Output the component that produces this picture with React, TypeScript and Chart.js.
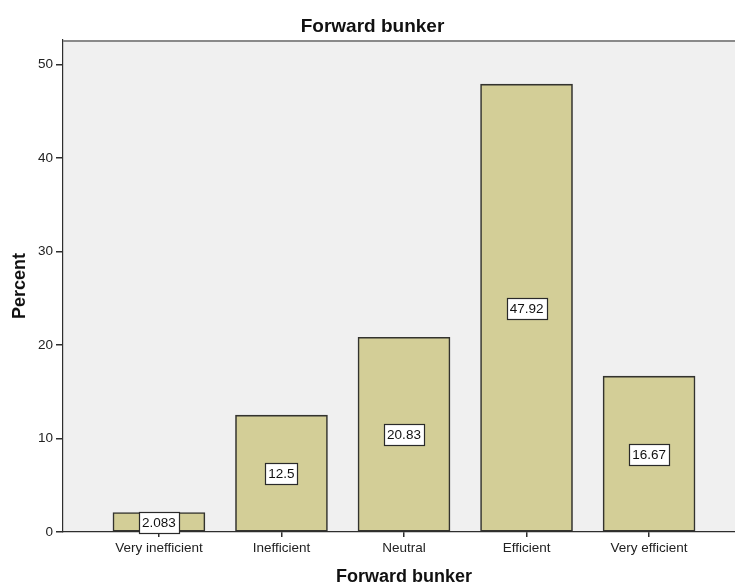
import React, { useEffect, useRef } from "react";
import { Chart, registerables } from "chart.js";

Chart.register(...registerables);

// Response categories and the percentage of answers in each
const categories = ["Very inefficient", "Inefficient", "Neutral", "Efficient", "Very efficient"];
const percents = [2.083, 12.5, 20.83, 47.92, 16.67];
const yTicks = [0, 10, 20, 30, 40, 50];

const chartTitle = "Forward bunker";
const xTitle = "Forward bunker";
const yTitle = "Percent";

const FONT = "'Liberation Sans', Arial, Helvetica, sans-serif";
const INK = "#222222";
const AXIS = "#2E2E2E";

const CANVAS_W = 745;
const CANVAS_H = 584;

// Plot frame, bar value boxes and titles
const decorations = {
  id: "decorations",
  beforeDraw(chart: any) {
    const { ctx, chartArea: a } = chart;
    ctx.save();
    ctx.fillStyle = "#F0F0F0";
    ctx.fillRect(a.left, a.top, a.right - a.left, a.bottom - a.top);
    ctx.restore();
  },
  afterDatasetsDraw(chart: any) {
    const { ctx } = chart;
    const yScale = chart.scales.y;
    const meta = chart.getDatasetMeta(0);
    ctx.save();
    ctx.font = `13.5px ${FONT}`;
    ctx.textAlign = "center";
    ctx.textBaseline = "middle";
    meta.data.forEach((bar: any, i: number) => {
      const v = percents[i];
      const text = String(v);
      const cx = bar.x;
      const cy = yScale.getPixelForValue(v / 2);
      const w = Math.round(ctx.measureText(text).width + 6);
      const h = 21;
      const x0 = Math.round(cx - w / 2) + 0.5;
      const y0 = Math.round(cy - h / 2) + 0.5;
      ctx.fillStyle = "#FFFFFF";
      ctx.fillRect(x0, y0, w, h);
      ctx.strokeStyle = "#2A2A2A";
      ctx.lineWidth = 1.2;
      ctx.strokeRect(x0, y0, w, h);
      ctx.fillStyle = "#111111";
      ctx.fillText(text, cx, y0 + h / 2 + 0.5);
    });
    ctx.restore();
  },
  afterDraw(chart: any) {
    const { ctx, chartArea: a } = chart;
    ctx.save();
    // top edge of the plot frame
    ctx.strokeStyle = "#8A8A8A";
    ctx.lineWidth = 2;
    ctx.beginPath();
    ctx.moveTo(a.left, a.top + 1);
    ctx.lineTo(a.right, a.top + 1);
    ctx.stroke();

    ctx.fillStyle = "#111111";
    ctx.textAlign = "center";
    ctx.textBaseline = "alphabetic";
    ctx.font = `bold 19px ${FONT}`;
    ctx.fillText(chartTitle, chart.width / 2, 32);

    ctx.font = `bold 18px ${FONT}`;
    ctx.fillText(xTitle, (a.left + a.right) / 2, 582);

    ctx.translate(25, (a.top + a.bottom) / 2);
    ctx.rotate(-Math.PI / 2);
    ctx.fillText(yTitle, 0, 0);
    ctx.restore();
  },
};

export default function App() {
  const canvasRef = useRef<HTMLCanvasElement | null>(null);

  useEffect(() => {
    const canvas = canvasRef.current;
    if (!canvas) return;

    const chart = new Chart(canvas, {
      type: "bar",
      data: {
        datasets: [
          {
            label: yTitle,
            data: percents.map((v, i) => ({ x: i, y: v })),
            backgroundColor: "#D3CE97",
            borderColor: "#33332E",
            borderWidth: 1.6,
            borderSkipped: false,
            barThickness: 92,
          },
        ],
      },
      options: {
        responsive: false,
        animation: false,
        devicePixelRatio: 1,
        layout: { padding: { top: 40, left: 0, right: 0, bottom: 0 } },
        plugins: {
          legend: { display: false },
          title: { display: false },
          tooltip: { enabled: false },
        },
        scales: {
          x: {
            type: "linear",
            offset: false,
            min: -0.783,
            max: 4.783,
            afterBuildTicks: (scale: any) => {
              scale.ticks = categories.map((_, i) => ({ value: i }));
            },
            afterFit: (scale: any) => {
              scale.height = 52;
            },
            ticks: {
              autoSkip: false,
              maxRotation: 0,
              padding: 3,
              color: INK,
              font: { family: FONT, size: 13.5 },
              callback: (value: any) => categories[Number(value)] ?? "",
            },
            grid: {
              offset: false,
              drawOnChartArea: false,
              drawTicks: true,
              tickLength: 5,
              lineWidth: 1.5,
              color: AXIS,
            },
            border: { display: true, color: AXIS, width: 1.2 },
          },
          y: {
            type: "linear",
            min: 0,
            max: 52.64,
            afterBuildTicks: (scale: any) => {
              scale.ticks = yTicks.map((v) => ({ value: v }));
            },
            afterFit: (scale: any) => {
              scale.width = 63;
            },
            ticks: {
              padding: 3,
              color: INK,
              font: { family: FONT, size: 13.5 },
            },
            grid: {
              drawOnChartArea: false,
              drawTicks: true,
              tickLength: 7,
              lineWidth: 1.5,
              color: AXIS,
            },
            border: { display: true, color: AXIS, width: 1.2 },
          },
        },
      },
      plugins: [decorations],
    } as any);

    return () => {
      chart.destroy();
    };
  }, []);

  return (
    <div
      style={{
        position: "fixed",
        left: 0,
        top: 0,
        width: 735,
        height: CANVAS_H,
        overflow: "hidden",
        background: "#FFFFFF",
      }}
    >
      <canvas
        ref={canvasRef}
        width={CANVAS_W}
        height={CANVAS_H}
        style={{ display: "block", width: CANVAS_W, height: CANVAS_H }}
      />
    </div>
  );
}
